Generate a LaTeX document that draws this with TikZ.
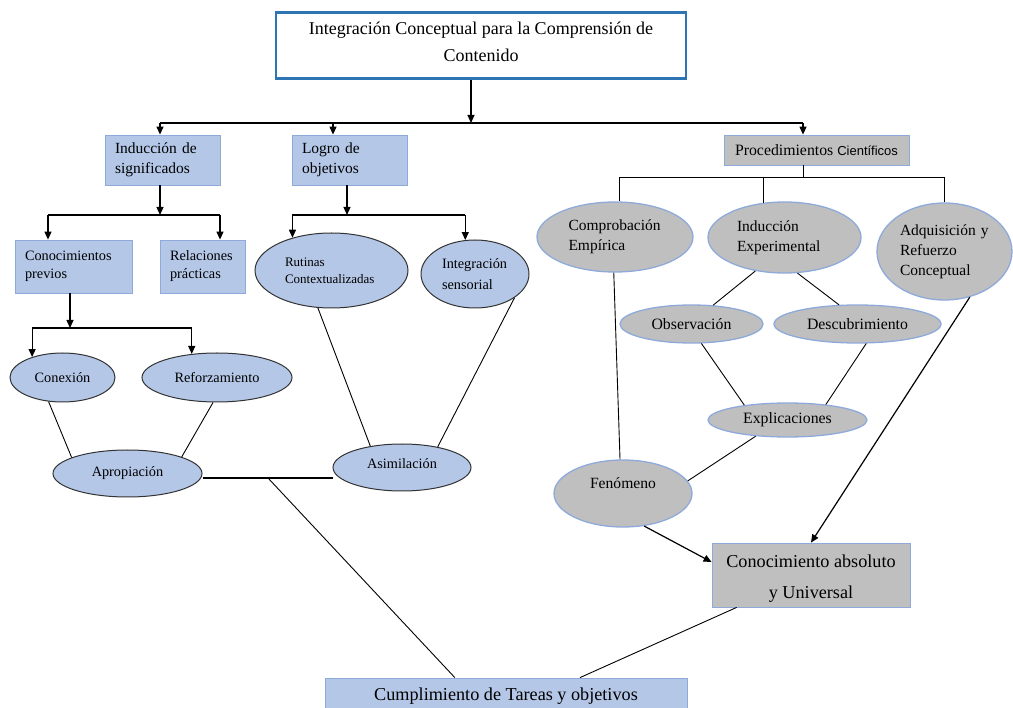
\documentclass[tikz,border=0pt]{standalone}
\usepackage{fontspec}
\setmainfont{Liberation Serif}
\newfontfamily\sansf{Liberation Sans}
\usetikzlibrary{arrows.meta,shapes.geometric,calc}
\definecolor{lblue}{HTML}{B4C7E7}
\definecolor{bline}{HTML}{8EAADB}
\definecolor{gfill}{HTML}{BFBFBF}
\definecolor{tblue}{HTML}{2E75B6}
\newcommand{\fsz}[2]{\fontsize{#1}{#2}\selectfont}
\begin{document}
\begin{tikzpicture}[x=1pt,y=-1pt,
  every node/.style={inner sep=0pt},
  conn/.style={line width=0.9pt, draw=black},
  arr/.style={line width=1.2pt, draw=black, -{Triangle[length=8pt,width=7pt]}},
  bbox/.style={rectangle, draw=bline, fill=lblue, line width=0.8pt, align=left},
  gbox/.style={rectangle, draw=bline, fill=gfill, line width=0.8pt, align=center},
  bell/.style={ellipse, draw=black!80, fill=lblue, line width=1pt},
  gell/.style={ellipse, draw=bline, fill=gfill, line width=1.3pt},
]
\useasboundingbox (0,0) rectangle (1013,708);
\fill[white] (0,0) rectangle (1013,708);

% ---------- nodes ----------
\node[rectangle, draw=tblue, line width=2.5pt, fill=white, minimum width=410pt, minimum height=66pt] (title) at (481,45.5) {};
\node[align=center, font=\fsz{18}{27}] (titletxt) at (481,42) {Integración Conceptual para la Comprensión de\\Contenido};

\node[bbox, minimum width=115pt, minimum height=50pt, text width=95pt, font=\fsz{15.5}{20}] (ind) at (162.5,160) {Inducción de\\significados};
\node[bbox, minimum width=115pt, minimum height=50pt, text width=95pt, font=\fsz{15.5}{20}] (logro) at (349.5,160) {Logro de\\objetivos};
\node[gbox, minimum width=185pt, minimum height=30pt, font=\fsz{15.8}{18}] (proc) at (816.5,150) {Procedimientos {\sansf\fontsize{13}{15}\selectfont Científicos}};

\node[bbox, minimum width=117pt, minimum height=53pt, text width=97pt, font=\fsz{14.3}{18}] (conp) at (73.5,266.5) {Conocimientos\\previos};
\node[bbox, minimum width=85pt, minimum height=53pt, text width=65pt, font=\fsz{14.3}{18}] (rel) at (202.5,266.5) {Relaciones\\prácticas};

\node[bell, minimum width=153pt, minimum height=75pt, text width=93pt, align=left, font=\fsz{13}{17}] (rut) at (331.5,270.5) {Rutinas\\Contextualizadas};
\node[bell, minimum width=108pt, minimum height=68pt, text width=66pt, align=left, font=\fsz{14.3}{21}] (integ) at (475,274) {Integración\\sensorial};

\node[bell, minimum width=105pt, minimum height=49pt, font=\fsz{14.3}{17}] (conex) at (62.5,377.5) {Conexión};
\node[bell, minimum width=150pt, minimum height=49pt, font=\fsz{14.3}{17}] (reforz) at (217,377.5) {Reforzamiento};
\node[bell, minimum width=149pt, minimum height=47pt, font=\fsz{14.3}{17}] (aprop) at (127.5,473.5) {Apropiación};
\node[bell, minimum width=138pt, minimum height=47pt] (asim) at (402,467.5) {};
\node[font=\fsz{14.3}{17}] (asimtxt) at (402,464) {Asimilación};

\node[gell, minimum width=156pt, minimum height=70pt, text width=93pt, align=left, font=\fsz{15.5}{20}] (compr) at (615,237) {Comprobación\\Empírica};
\node[gell, minimum width=153pt, minimum height=71pt, text width=95pt, align=left, font=\fsz{15.5}{20}] (indexp) at (784.5,237.5) {Inducción\\Experimental};
\node[gell, minimum width=135pt, minimum height=97pt, text width=89pt, align=left, font=\fsz{15.5}{20}] (adq) at (944.5,251.5) {Adquisición y\\Refuerzo\\Conceptual};

\node[gell, minimum width=143pt, minimum height=38pt, font=\fsz{15.8}{18}] (obs) at (691.5,324) {Observación};
\node[gell, minimum width=167pt, minimum height=38pt, font=\fsz{15.8}{18}] (desc) at (857.5,324) {Descubrimiento};
\node[gell, minimum width=159pt, minimum height=34pt, font=\fsz{15.8}{18}] (expl) at (787.5,420) {Explicaciones};
\node[gell, minimum width=138pt, minimum height=67pt] (fen) at (623,493.5) {};
\node[font=\fsz{15.6}{18}] (fentxt) at (623,483) {Fenómeno};

\node[gbox, minimum width=198pt, minimum height=64pt] (conoc) at (811,575) {};
\node[align=center, font=\fsz{18.2}{31}] (conoctxt) at (811,579) {Conocimiento absoluto\\y Universal};
\node[bbox, align=center, minimum width=362pt, minimum height=36pt, font=\fsz{18.2}{20}] (cumpl) at (506,696) {Cumplimiento de Tareas y objetivos};

% ---------- top connectors ----------
\coordinate (t0) at (471,123);
\coordinate (tL) at (160,123);
\coordinate (tM) at (333,123);
\coordinate (tR) at (803,123);
\draw[arr] (title.south -| t0) -- (t0);
\draw[conn, line width=1.2pt] (tL) -- (tR);
\draw[arr] (tL) -- (tL |- ind.north);
\draw[arr] (tM) -- (tM |- logro.north);
\draw[arr] (tR) -- (tR |- proc.north);

% Induccion branch
\coordinate (i0) at (160,215);
\coordinate (iL) at (48,215);
\coordinate (iR) at (220,215);
\draw[arr] (ind.south -| i0) -- (i0);
\draw[conn, line width=1.2pt] (iL) -- (iR);
\draw[arr] (iL) -- (iL |- conp.north);
\draw[arr] (iR) -- (iR |- rel.north);

% Logro branch
\coordinate (l0) at (347,215);
\draw[arr] (logro.south -| l0) -- (l0);
\draw[conn, line width=1.2pt] (rut.140 |- l0) -- (integ.106 |- l0);
\draw[arr] (rut.140 |- l0) -- (rut.140);
\draw[arr] (integ.106 |- l0) -- (integ.106);

% Conocimientos previos branch
\coordinate (c0) at (70,328);
\draw[arr] (conp.south -| c0) -- (c0);
\draw[conn, line width=1.2pt] (conex.146 |- c0) -- (reforz.137 |- c0);
\draw[arr] (conex.146 |- c0) -- (conex.146);
\draw[arr] (reforz.137 |- c0) -- (reforz.137);

% ellipse links left
\draw[conn] (conex.240) -- (aprop.164);
\draw[conn] (reforz.261) -- (aprop.17);
\draw[conn] (rut.250) -- (asim.146);
\draw[conn] (integ.329) -- (asim.30);

\coordinate (a0) at (268,478);
\draw[conn, line width=1.2pt] (a0 -| aprop.east) -- (a0 -| asim.west);
\draw[conn] (a0) -- ($(cumpl.north west)!0.359!(cumpl.north east)$);

% right side
\coordinate (p0) at (803,177);
\draw[conn] (proc.south -| p0) -- (p0);
\draw[conn] (compr.83 |- p0) -- (adq.north |- p0);
\draw[conn] (compr.83 |- p0) -- (compr.83);
\draw[conn] (indexp.121 |- p0) -- (indexp.121);
\draw[conn] (adq.north |- p0) -- (adq.north);

\draw[conn] (indexp.229) -- (obs.41);
\draw[conn] (indexp.290) -- (desc.134);
\draw[conn] (obs.297) -- (expl.161);
\draw[conn] (desc.294) -- (expl.22);
\draw[conn] (expl.207) -- (fen.11);
\draw[conn] (compr.268) -- (fen.95);
\draw[arr] (fen.303) -- ($(conoc.north west)!0.3!(conoc.south west)$);
\draw[arr] (adq.299) -- (conoc.north);
\draw[conn] ($(conoc.south west)!0.126!(conoc.south east)$) -- ($(cumpl.north west)!0.704!(cumpl.north east)$);
\end{tikzpicture}
\end{document}
